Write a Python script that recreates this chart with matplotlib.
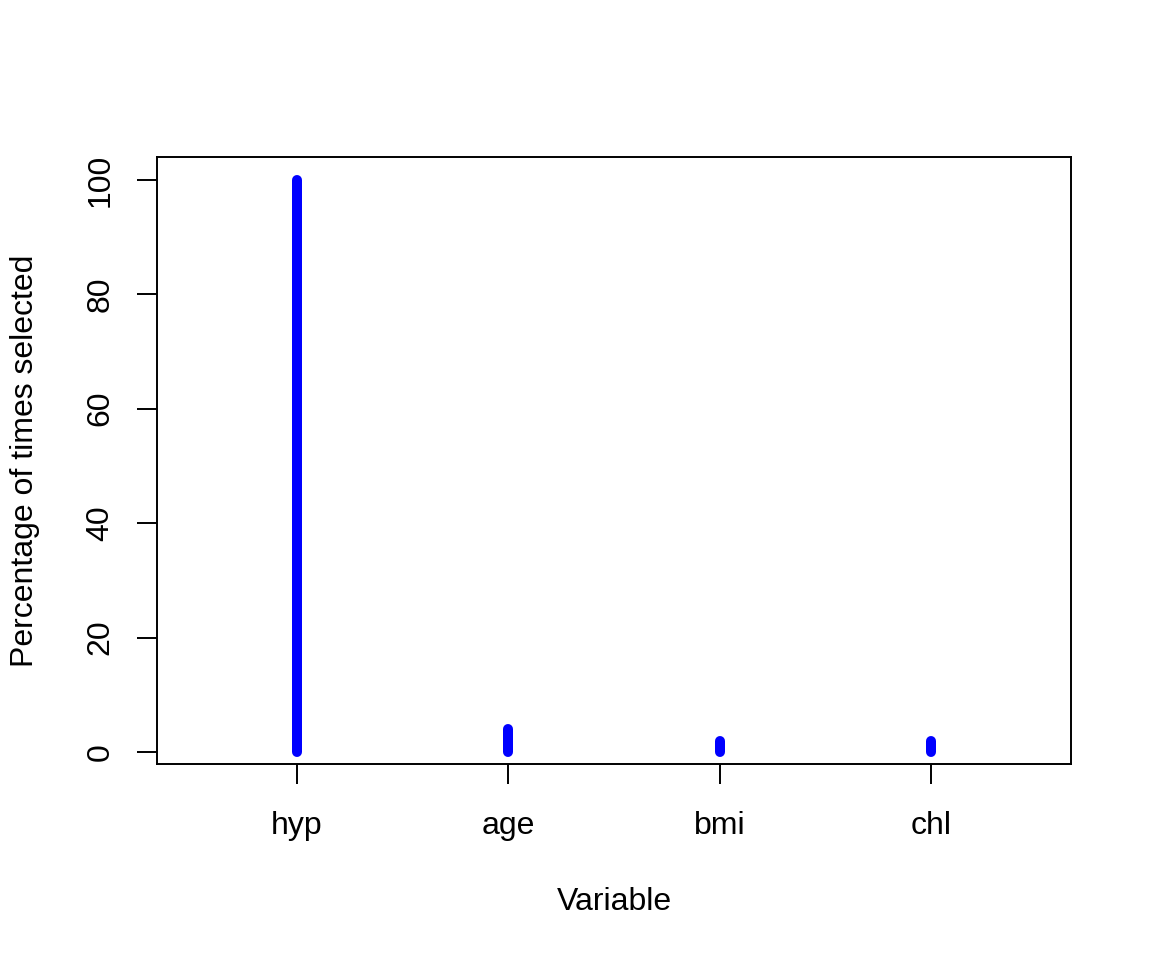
import matplotlib
matplotlib.use("Agg")
import matplotlib.pyplot as plt

variables = ["hyp", "age", "bmi", "chl"]
pct_selected = [100, 4, 2, 2]

plt.rcParams["font.family"] = ["Liberation Sans", "DejaVu Sans"]

fig = plt.figure(figsize=(11.52, 9.6), dpi=100)
ax = fig.add_axes([157 / 1152, 1 - 764 / 960, (1071 - 157) / 1152, (764 - 157) / 960])

xs = list(range(1, len(variables) + 1))
for x, v in zip(xs, pct_selected):
    ax.plot([x, x], [0, v], color="#0000ff", lw=7.2, solid_capstyle="round")

ax.set_xlim(0.34, 4.66)
ax.set_ylim(-2.1, 104)
ax.set_xticks(xs)
ax.set_xticklabels(variables)
ax.set_yticks([0, 20, 40, 60, 80, 100])
ax.set_yticklabels(["0", "20", "40", "60", "80", "100"], rotation=90, va="center")

ax.tick_params(axis="both", length=14.4, width=1.4, labelsize=23, color="black")
ax.tick_params(axis="x", pad=19.5)
ax.tick_params(axis="y", pad=15.5)
for s in ax.spines.values():
    s.set_linewidth(1.4)

ax.set_xlabel("Variable", fontsize=23)
ax.xaxis.label.set_va("baseline")
ax.xaxis.set_label_coords(0.5, (764 - 910) / 607)
ax.set_ylabel("Percentage of times selected", fontsize=23, ha="center", va="center")
ax.yaxis.set_label_coords((25 - 157) / 914, 0.5)

fig.savefig("out.png", dpi=100)
